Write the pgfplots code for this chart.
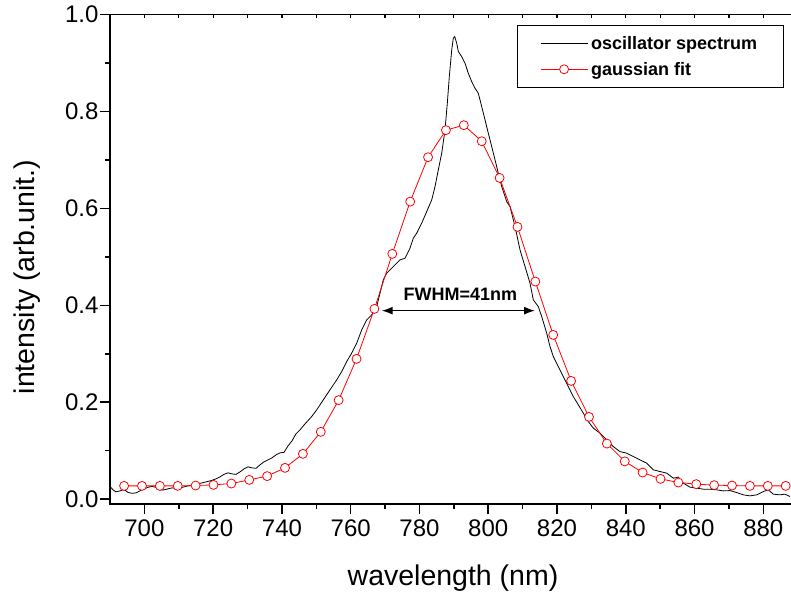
\documentclass[border=0pt]{standalone}
\usepackage{fontspec}
\setmainfont{Liberation Sans}
\usepackage{pgfplots}
\pgfplotsset{compat=1.18}
\usetikzlibrary{arrows.meta}
\definecolor{fitred}{RGB}{255,0,0}
\begin{document}
\begin{tikzpicture}
\useasboundingbox (0,0) rectangle (791pt,597pt);
\begin{axis}[
  at={(110pt,93pt)}, anchor=south west, scale only axis,
  width=687.7pt, height=489.4pt,
  xmin=690, xmax=890, ymin=-0.01, ymax=1.0,
  xtick={700,720,740,760,780,800,820,840,860,880},
  xticklabels={700,720,740,760,780,800,820,840,860,880},
  ytick={0,0.2,0.4,0.6,0.8,1.0},
  yticklabels={0.0,0.2,0.4,0.6,0.8,1.0},
  minor x tick num=1, minor y tick num=1,
  xtick pos=bottom, ytick pos=left, tick align=outside,
  major tick length=10pt, minor tick length=5pt,
  axis line style={line width=1.5pt},
  every tick/.style={line width=1.5pt, black},
  /pgf/number format/assume math mode=true,
  tick label style={font=\fontsize{24}{28}\selectfont},
  xticklabel style={yshift=-2pt},
  yticklabel style={xshift=2pt},
  label style={font=\fontsize{28.5}{34}\selectfont},
  xlabel={wavelength (nm)},
  ylabel={intensity (arb.unit.)},
  xlabel style={at={(axis description cs:0.4988,-0.1512)}, anchor=center},
  ylabel style={at={(axis description cs:-0.1207,0.4638)}, anchor=center},
  legend cell align=left,
  legend image code/.code={\draw[mark repeat=2,mark phase=2,#1] plot coordinates {(0pt,0pt) (23.5pt,0pt) (47pt,0pt)};},
  legend style={at={(0.5914,0.9788)}, anchor=north west, draw=black, line width=1pt,
    inner xsep=23pt, inner ysep=9pt, row sep=7pt,
    nodes={inner ysep=2pt, inner xsep=3pt},
    font=\bfseries\fontsize{18}{21}\selectfont},
]
\addplot[black, line width=0.8pt, no marks] coordinates {
(690.00,0.0264) (690.87,0.0192) (691.74,0.0151) (692.91,0.0171) (694.07,0.0202)
(695.23,0.0140) (696.40,0.0120) (697.56,0.0130) (698.72,0.0171) (699.89,0.0213)
(701.05,0.0244) (702.21,0.0264) (703.38,0.0244) (704.54,0.0192) (705.70,0.0192)
(706.87,0.0213) (708.03,0.0233) (709.19,0.0223) (710.36,0.0233) (711.52,0.0254)
(712.68,0.0274) (713.85,0.0285) (715.01,0.0295) (716.17,0.0326) (717.34,0.0347)
(718.50,0.0367) (719.66,0.0388) (720.83,0.0419) (721.99,0.0460) (723.15,0.0512)
(724.32,0.0543) (725.48,0.0522) (726.64,0.0512) (727.81,0.0563) (728.97,0.0625)
(730.13,0.0667) (731.30,0.0646) (732.46,0.0636) (733.62,0.0708) (734.79,0.0770)
(735.95,0.0811) (737.11,0.0852) (738.28,0.0914) (739.44,0.0955) (740.60,0.0966)
(741.77,0.1100) (742.93,0.1203) (744.09,0.1348) (745.26,0.1430) (746.71,0.1554)
(748.66,0.1705) (750.11,0.1843) (752.03,0.2049) (753.98,0.2256) (755.93,0.2462)
(757.38,0.2633) (758.84,0.2840) (760.29,0.3013) (761.75,0.3219) (763.20,0.3494)
(764.66,0.3700) (766.11,0.3803) (767.56,0.3974) (768.53,0.4251) (769.48,0.4525)
(770.47,0.4664) (772.39,0.4800) (774.34,0.4938) (775.79,0.4973) (777.25,0.5180)
(778.21,0.5386) (779.20,0.5489) (780.65,0.5696) (782.11,0.5935) (783.56,0.6176)
(784.52,0.6451) (785.48,0.6795) (786.47,0.7140) (787.43,0.7621) (788.10,0.8172)
(788.68,0.8721) (789.38,0.9272) (789.84,0.9513) (790.25,0.9546) (790.83,0.9410)
(791.30,0.9237) (792.28,0.9134) (793.24,0.8997) (794.20,0.8791) (795.19,0.8618)
(796.15,0.8481) (797.11,0.8378) (798.10,0.8102) (799.06,0.7827) (800.02,0.7553)
(801.01,0.7276) (801.97,0.7002) (802.93,0.6727) (803.92,0.6451) (805.37,0.6141)
(806.33,0.6038) (807.79,0.5625) (809.24,0.5145) (810.70,0.4800) (812.15,0.4457)
(813.11,0.4113) (814.56,0.3974) (815.55,0.3768) (817.00,0.3426) (817.97,0.3149)
(818.93,0.2943) (820.38,0.2736) (821.83,0.2530) (823.29,0.2324) (824.74,0.2117)
(826.20,0.1946) (827.65,0.1775) (829.10,0.1601) (830.56,0.1465) (832.51,0.1362)
(834.45,0.1224) (836.37,0.1085) (838.32,0.0982) (840.27,0.0949) (842.19,0.0879)
(844.14,0.0811) (846.09,0.0743) (848.01,0.0605) (849.96,0.0570) (851.91,0.0537)
(853.83,0.0433) (855.28,0.0454) (856.73,0.0330) (858.68,0.0248) (860.63,0.0227)
(862.55,0.0206) (864.50,0.0206) (866.45,0.0192) (868.37,0.0171) (870.31,0.0177)
(872.26,0.0136) (874.18,0.0089) (876.13,0.0068) (878.08,0.0089) (880.00,0.0157)
(881.45,0.0192) (882.91,0.0103) (884.86,0.0089) (886.31,0.0103) (887.76,0.0054)
};
\addlegendentry{oscillator spectrum}
\addplot[fitred, line width=0.8pt, mark=*, mark size=4.5pt,
  mark options={fill=white, draw=fitred, line width=0.8pt}] coordinates {
(694.1,0.0274) (699.3,0.0274) (704.5,0.0274) (709.7,0.0274) (714.9,0.0281)
(720.1,0.0295) (725.3,0.0322) (730.5,0.0398) (735.7,0.0475) (740.9,0.0646)
(746.1,0.0935) (751.3,0.1389) (756.5,0.2043) (761.7,0.2895) (766.9,0.3927)
(772.1,0.5062) (777.3,0.6141) (782.5,0.7057) (787.7,0.7615) (792.9,0.7718)
(798.1,0.7387) (803.3,0.6630) (808.5,0.5619) (813.7,0.4490) (818.9,0.3390)
(824.1,0.2441) (829.3,0.1698) (834.5,0.1147) (839.7,0.0780) (844.9,0.0549)
(850.1,0.0419) (855.3,0.0343) (860.5,0.0310) (865.7,0.0289) (870.9,0.0281)
(876.1,0.0274) (881.3,0.0274) (886.5,0.0274)
};
\addlegendentry{gaussian fit}
\draw[{Latex[length=11pt,width=8pt]}-{Latex[length=11pt,width=8pt]}, line width=1.5pt]
  (axis cs:769.0,0.389) -- (axis cs:813.6,0.389);
\node[font=\bfseries\fontsize{18}{21}\selectfont] at (axis cs:791.9,0.4237) {FWHM=41nm};
\end{axis}
\begin{axis}[
  at={(110pt,93pt)}, anchor=south west, scale only axis,
  width=687.7pt, height=489.4pt,
  xmin=690, xmax=890, ymin=-0.01, ymax=1.0,
  xtick={700,720,740,760,780,800,820,840,860,880},
  xticklabels={}, ytick=\empty,
  minor x tick num=1, xtick pos=top, tick align=inside,
  major tick length=3pt, minor tick length=3pt,
  axis line style={draw=none},
  every tick/.style={line width=1.2pt, black},
]
\end{axis}
\end{tikzpicture}
\end{document}
